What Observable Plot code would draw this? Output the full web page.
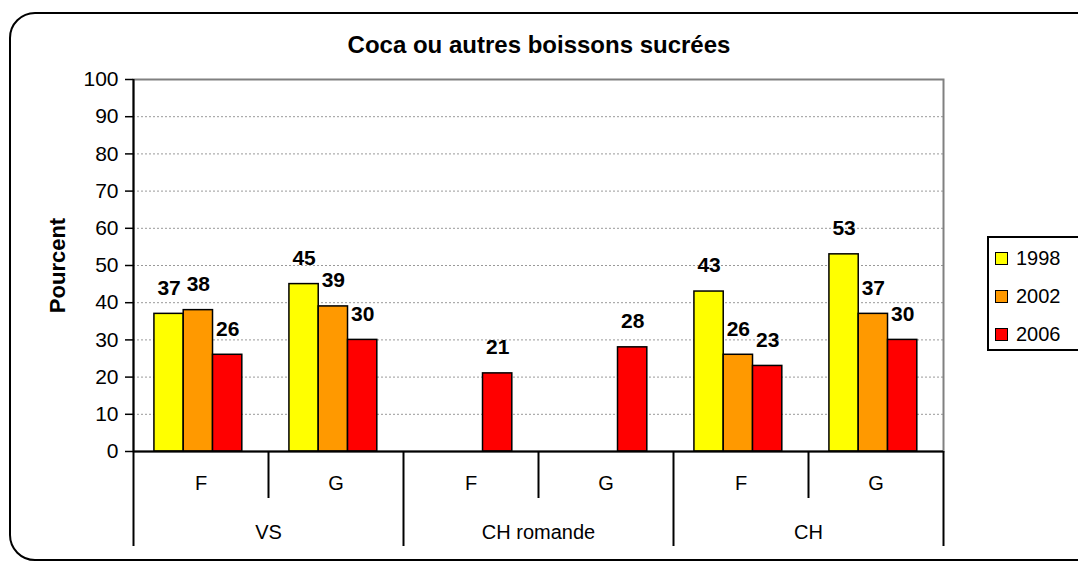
<!DOCTYPE html>
<html>
<head>
<meta charset="utf-8">
<script src="https://cdn.jsdelivr.net/npm/d3@7"></script>
<script src="https://cdn.jsdelivr.net/npm/@observablehq/plot@0.6"></script>
<style>
  html, body { margin: 0; padding: 0; background: #fff; overflow: hidden; }
  #wrap { position: relative; width: 1078px; height: 564px; overflow: hidden; font-family: "Liberation Sans", Arial, sans-serif; color: #000; }
  #border { position: absolute; left: 9px; top: 12px; width: 1120px; height: 549px; border: 2.5px solid #000; border-radius: 26px; box-sizing: border-box; }
  #title { position: absolute; left: 0; top: 31px; width: 1078px; text-align: center; font-weight: bold; font-size: 24px; line-height: 28px; }
  #chart { position: absolute; left: 0; top: 60px; }
  #legend { position: absolute; left: 987px; top: 236px; width: 130px; height: 115px; border: 2px solid #000; box-sizing: border-box; background: #fff; }
  .item { position: absolute; left: 6px; height: 24px; display: flex; align-items: center; font-size: 20px; }
  .sw { width: 11px; height: 11px; border: 1.5px solid #000; margin-right: 8px; }
</style>
</head>
<body>
<div id="wrap">
  <div id="border"></div>
  <div id="title"></div>
  <div id="chart"></div>
  <div id="legend"></div>
</div>
<script>
const title = "Coca ou autres boissons sucrées";
const yLabel = "Pourcent";
const groups = ["VS", "CH romande", "CH"];
const subgroups = ["F", "G"];
const years = ["1998", "2002", "2006"];
const colors = ["#FFFF00", "#FF9900", "#FF0000"];
// values per year, in order VS-F, VS-G, CHr-F, CHr-G, CH-F, CH-G
const v1998 = [37, 45, null, null, 43, 53];
const v2002 = [38, 39, null, null, 26, 37];
const v2006 = [26, 30, 21, 28, 23, 30];
const yTicks = [0, 10, 20, 30, 40, 50, 60, 70, 80, 90, 100];

const series = [v1998, v2002, v2006];
const rows = [];
series.forEach((vals, j) => vals.forEach((v, i) => {
  if (v != null) rows.push({i, j, year: years[j], value: v});
}));
const cats = [];
groups.forEach((g, gi) => subgroups.forEach((s, si) => cats.push({i: gi * subgroups.length + si, sub: s, group: g})));
const nCats = cats.length;
const groupRows = groups.map((g, gi) => ({g, c: gi * subgroups.length + subgroups.length / 2}));

// layout within each category slot (fractions of the slot)
const pad = 0.155, bw = 0.217;
const x1 = d => d.i + pad + d.j * bw;
const x2 = d => d.i + pad + (d.j + 1) * bw;
const xc = d => d.i + pad + (d.j + 0.5) * bw;

document.getElementById("title").textContent = title;

const plot = Plot.plot({
  width: 960,
  height: 491,
  marginTop: 19,
  marginBottom: 100,
  marginLeft: 133,
  marginRight: 17,
  style: {fontFamily: "'Liberation Sans', Arial, sans-serif", fontSize: "20px", color: "#000", background: "transparent", overflow: "visible"},
  x: {type: "linear", domain: [0, nCats]},
  y: {domain: [0, 100]},
  color: {domain: years, range: colors},
  marks: [
    Plot.gridY(yTicks.filter(t => t > 0 && t < 100), {stroke: "#999", strokeOpacity: 1, strokeDasharray: "2,2", strokeWidth: 1}),
    Plot.frame({stroke: "#808080", strokeWidth: 2}),
    Plot.rectY(rows, {x1, x2, y1: 0, y2: "value", fill: "year", stroke: "#000", strokeWidth: 1.5}),
    Plot.text(rows, {x: xc, y: "value", text: d => String(d.value), dy: -26, fontWeight: "bold", fontSize: 21}),
    Plot.ruleX([0], {stroke: "#000", strokeWidth: 2}),
    Plot.ruleY([0], {stroke: "#000", strokeWidth: 2}),
    Plot.axisY({ticks: yTicks, tickSize: 8, tickPadding: 7, fontSize: 21, label: null, stroke: "#000", strokeWidth: 1.5}),
    // group dividers (long) and subgroup dividers (short)
    Plot.axisX({ticks: d3.range(0, nCats + 1, subgroups.length), tickSize: 95, tickFormat: () => "", label: null, stroke: "#000", strokeWidth: 2}),
    Plot.axisX({ticks: d3.range(1, nCats, subgroups.length), tickSize: 47, tickFormat: () => "", label: null, stroke: "#000", strokeWidth: 2}),
    Plot.text(cats, {x: d => d.i + 0.5, text: "sub", frameAnchor: "bottom", lineAnchor: "middle", dy: 32, fontSize: 20}),
    Plot.text(groupRows, {x: "c", text: "g", frameAnchor: "bottom", lineAnchor: "middle", dy: 81, fontSize: 20}),
    Plot.text([yLabel], {frameAnchor: "left", textAnchor: "middle", lineAnchor: "middle", dx: -76, rotate: -90, fontWeight: "bold", fontSize: 22})
  ]
});
document.getElementById("chart").appendChild(plot);

const legend = document.getElementById("legend");
years.forEach((y, j) => {
  const it = document.createElement("div");
  it.className = "item";
  it.style.top = (8 + j * 38) + "px";
  const sw = document.createElement("div");
  sw.className = "sw";
  sw.style.background = colors[j];
  it.appendChild(sw);
  const t = document.createElement("span");
  t.textContent = y;
  it.appendChild(t);
  legend.appendChild(it);
});
</script>
</body>
</html>
